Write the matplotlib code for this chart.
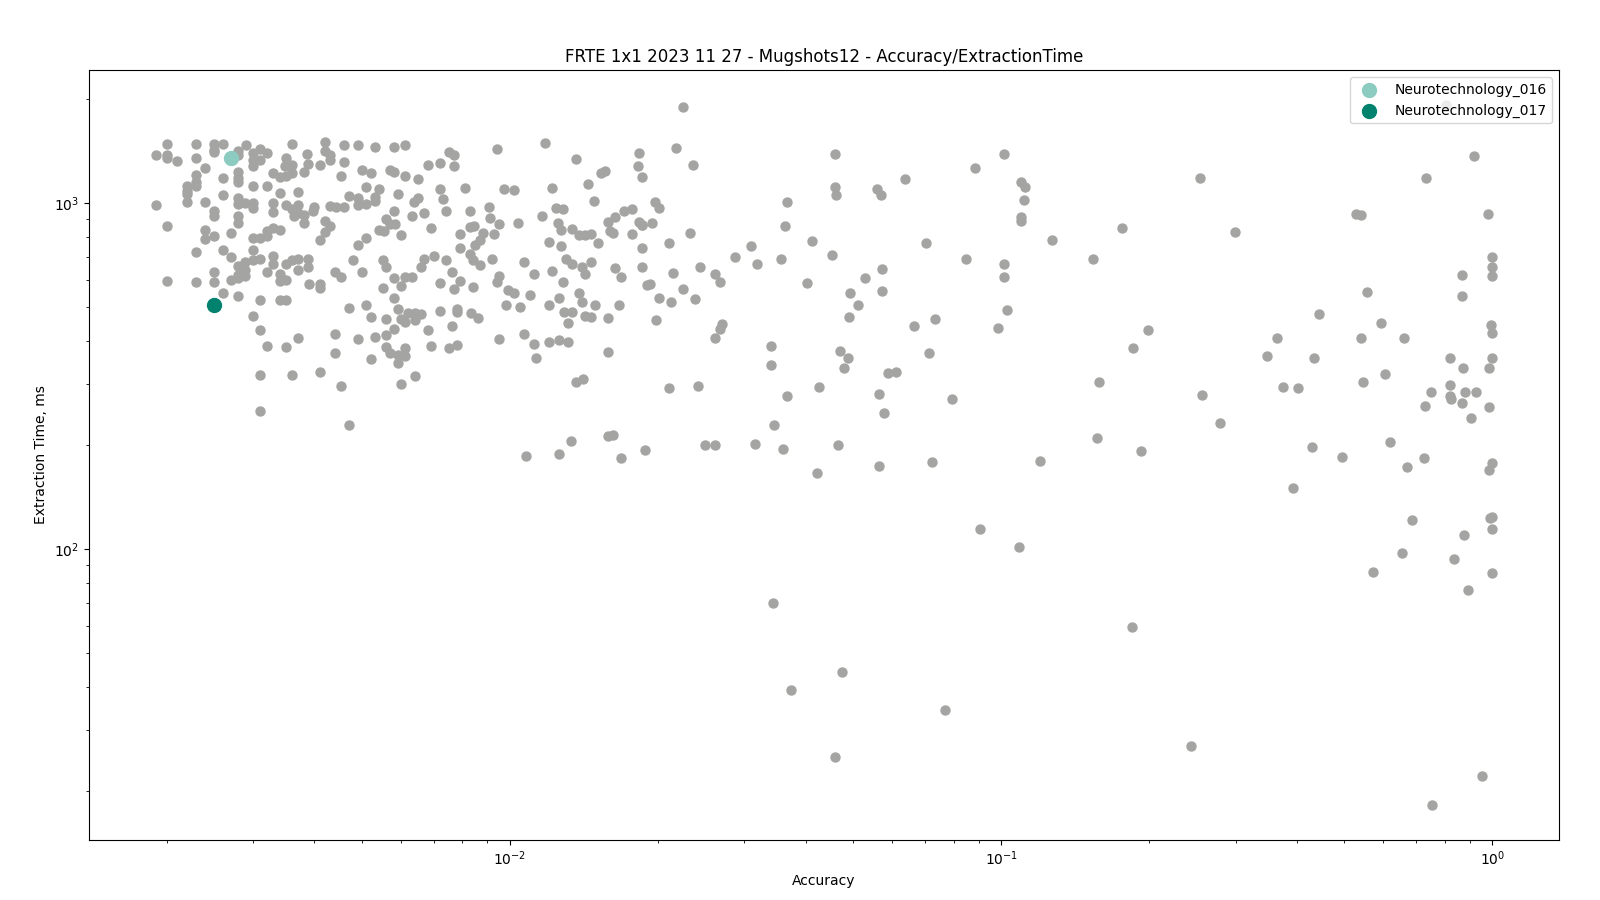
import matplotlib.pyplot as plt
import numpy as np

# (accuracy, extraction time in ms), grouped by area
cluster_far_left = [
    (0.00200, 1490), (0.00230, 1490), (0.00250, 1490), (0.00260, 1490), (0.00290, 1480),
    (0.00360, 1490), (0.00190, 1380), (0.00200, 1380), (0.00200, 1350), (0.00210, 1330),
    (0.00230, 1350), (0.00250, 1430), (0.00250, 1410), (0.00280, 1420), (0.00280, 1385),
    (0.00300, 1400), (0.00310, 1440), (0.00320, 1400), (0.00310, 1340), (0.00300, 1340),
    (0.00300, 1280), (0.00350, 1355), (0.00360, 1295), (0.00348, 1285), (0.00387, 1395),
    (0.00388, 1305), (0.00240, 1270), (0.00230, 1210), (0.00230, 1157), (0.00260, 1185),
    (0.00280, 1235), (0.00280, 1185), (0.00280, 1150), (0.00300, 1125), (0.00320, 1120),
    (0.00329, 1227), (0.00340, 1195), (0.00350, 1200), (0.00360, 1225), (0.00381, 1232),
    (0.00220, 1125), (0.00220, 1089), (0.00220, 1068), (0.00230, 1125), (0.00220, 1012),
    (0.00240, 1012), (0.00260, 1061), (0.00190, 991), (0.00280, 1040), (0.00280, 998),
    (0.00289, 1005), (0.00300, 1005), (0.00300, 972), (0.00340, 1075), (0.00371, 1082),
    (0.00329, 1005), (0.00329, 945), (0.00350, 991), (0.00360, 965), (0.00371, 991),
    (0.00371, 940), (0.00381, 928), (0.00364, 922), (0.00381, 877), (0.00250, 953),
    (0.00250, 920), (0.00280, 920), (0.00280, 880), (0.00200, 860), (0.00240, 836),
    (0.00240, 791), (0.00250, 807), (0.00270, 823), (0.00300, 796), (0.00310, 796),
    (0.00320, 807), (0.00320, 834), (0.00329, 851), (0.00340, 840), (0.00230, 725),
    (0.00260, 735), (0.00270, 701), (0.00300, 735), (0.00300, 688), (0.00310, 692),
    (0.00329, 706), (0.00329, 670), (0.00280, 661), (0.00289, 679), (0.00289, 643),
    (0.00280, 622), (0.00289, 618), (0.00320, 635), (0.00340, 627), (0.00350, 670),
    (0.00360, 688), (0.00371, 692), (0.00388, 692), (0.00388, 657), (0.00371, 643),
    (0.00250, 635), (0.00200, 598), (0.00230, 594), (0.00250, 594), (0.00270, 602),
    (0.00280, 610), (0.00340, 598), (0.00350, 602), (0.00260, 549), (0.00280, 538),
    (0.00310, 524), (0.00340, 524), (0.00350, 524), (0.00300, 474), (0.00310, 429),
    (0.00320, 386), (0.00350, 383), (0.00371, 407), (0.00310, 319), (0.00360, 318),
    (0.00310, 251),
]

cluster_left = [
    (0.00420, 1510), (0.00460, 1480), (0.00491, 1475), (0.00532, 1460), (0.00581, 1460),
    (0.00612, 1480), (0.00420, 1415), (0.00431, 1385), (0.00410, 1295), (0.00431, 1340),
    (0.00460, 1320), (0.00452, 1202), (0.00500, 1250), (0.00522, 1228), (0.00571, 1250),
    (0.00581, 1235), (0.00612, 1197), (0.00650, 1175), (0.00682, 1295), (0.00721, 1310),
    (0.00752, 1410), (0.00770, 1385), (0.00770, 1280), (0.00510, 1117), (0.00542, 1103),
    (0.00470, 1053), (0.00491, 1040), (0.00491, 992), (0.00510, 998), (0.00532, 1046),
    (0.00532, 1019), (0.00592, 1065), (0.00650, 1040), (0.00638, 1012), (0.00721, 1103),
    (0.00731, 1033), (0.00810, 1110), (0.00399, 979), (0.00397, 953), (0.00431, 985),
    (0.00443, 979), (0.00460, 979), (0.00581, 953), (0.00632, 920), (0.00670, 940),
    (0.00741, 953), (0.00830, 953), (0.00420, 891), (0.00431, 862), (0.00420, 828),
    (0.00410, 786), (0.00560, 903), (0.00571, 872), (0.00584, 872), (0.00542, 840),
    (0.00554, 834), (0.00600, 813), (0.00691, 851), (0.00510, 796), (0.00491, 760),
    (0.00792, 818), (0.00830, 856), (0.00845, 861), (0.00792, 745), (0.00830, 712),
    (0.00850, 760), (0.00840, 688), (0.00480, 686), (0.00552, 686), (0.00560, 657),
    (0.00670, 692), (0.00700, 706), (0.00659, 657), (0.00741, 686), (0.00762, 635),
    (0.00440, 635), (0.00452, 614), (0.00500, 635), (0.00581, 610), (0.00612, 614),
    (0.00632, 614), (0.00390, 585), (0.00410, 585), (0.00410, 570), (0.00552, 570),
    (0.00600, 578), (0.00721, 588), (0.00770, 566), (0.00792, 597), (0.00840, 575),
    (0.00581, 531), (0.00470, 499), (0.00510, 507), (0.00522, 470), (0.00560, 464),
    (0.00592, 496), (0.00620, 483), (0.00641, 483), (0.00659, 480), (0.00600, 464),
    (0.00612, 455), (0.00641, 461), (0.00721, 490), (0.00781, 496), (0.00781, 486),
    (0.00835, 483), (0.00762, 441), (0.00682, 430), (0.00581, 433), (0.00440, 418),
    (0.00491, 405), (0.00532, 412), (0.00560, 415), (0.00560, 383), (0.00571, 368),
    (0.00592, 365), (0.00612, 381), (0.00612, 361), (0.00592, 345), (0.00691, 386),
    (0.00752, 381), (0.00781, 389), (0.00440, 370), (0.00522, 355), (0.00410, 325),
    (0.00452, 297), (0.00600, 301), (0.00641, 316), (0.00470, 229),
]

cluster_mid = [
    (0.00941, 1440), (0.0118, 1495), (0.0136, 1348), (0.0153, 1225), (0.0156, 1240),
    (0.00973, 1103), (0.0102, 1095), (0.0122, 1110), (0.0144, 1138), (0.0148, 1018),
    (0.00905, 978), (0.00912, 910), (0.00950, 873), (0.0104, 879), (0.0116, 921),
    (0.0124, 972), (0.0128, 965), (0.0125, 879), (0.0127, 839), (0.0134, 845),
    (0.0138, 812), (0.0142, 812), (0.0146, 818), (0.0151, 770), (0.0158, 886),
    (0.0160, 834), (0.0162, 823), (0.0164, 915), (0.0171, 952), (0.0177, 965),
    (0.0177, 818), (0.0183, 886), (0.0186, 869), (0.00880, 823), (0.00870, 783),
    (0.00930, 818), (0.0120, 775), (0.0127, 754), (0.00870, 665), (0.00920, 692),
    (0.0107, 679), (0.0112, 627), (0.0122, 639), (0.0130, 692), (0.0134, 670),
    (0.0140, 657), (0.0142, 623), (0.0146, 679), (0.0164, 652), (0.0168, 614),
    (0.00950, 618), (0.00942, 594), (0.0128, 594), (0.00990, 560), (0.0102, 549),
    (0.0110, 545), (0.0138, 552), (0.0126, 531), (0.0140, 517), (0.0149, 510),
    (0.0167, 507), (0.00983, 507), (0.0105, 503), (0.0120, 507), (0.0129, 486),
    (0.0134, 486), (0.0142, 473), (0.0146, 470), (0.0158, 467), (0.0131, 452),
    (0.00860, 467), (0.00950, 404), (0.0107, 420), (0.0112, 392), (0.0120, 397),
    (0.0126, 403), (0.0131, 397), (0.0113, 358), (0.0158, 371), (0.0136, 305),
    (0.0141, 310), (0.0133, 205), (0.0158, 213), (0.0162, 214), (0.0108, 186),
    (0.0126, 188), (0.0168, 183), (0.0188, 194),
]

cluster_mid_right = [
    (0.0225, 1902), (0.0218, 1450), (0.0236, 1290), (0.0183, 1400), (0.0182, 1285),
    (0.0186, 1195), (0.0197, 1012), (0.0201, 972), (0.0186, 869), (0.0195, 879),
    (0.0233, 823), (0.0211, 770), (0.0186, 745), (0.0366, 1012), (0.0363, 862),
    (0.0310, 754), (0.0287, 698), (0.0318, 666), (0.0356, 692), (0.0186, 657),
    (0.0215, 631), (0.0244, 657), (0.0262, 623), (0.0268, 594), (0.0190, 582),
    (0.0193, 586), (0.0225, 566), (0.0201, 534), (0.0213, 520), (0.0238, 530),
    (0.0198, 460), (0.0270, 449), (0.0268, 432), (0.0262, 409), (0.0340, 386),
    (0.0340, 340), (0.0211, 292), (0.0242, 296), (0.0366, 278), (0.0345, 229),
    (0.0250, 200), (0.0262, 200), (0.0316, 202), (0.0360, 195),
]

cluster_right = [
    (0.0459, 1395), (0.1013, 1395), (0.0885, 1268), (0.0637, 1178), (0.0459, 1113),
    (0.0461, 1060), (0.0559, 1103), (0.0569, 1060), (0.1096, 1157), (0.1118, 1118),
    (0.1113, 1025), (0.1096, 915), (0.1096, 889), (0.1759, 851), (0.1269, 786),
    (0.0412, 781), (0.0703, 770), (0.0452, 711), (0.0848, 689), (0.1013, 666),
    (0.1013, 614), (0.1538, 689), (0.0572, 645), (0.0528, 610), (0.0402, 589),
    (0.0492, 552), (0.0572, 559), (0.0511, 509), (0.0490, 468), (0.1027, 493),
    (0.0733, 462), (0.0665, 441), (0.0985, 435), (0.1990, 429), (0.1855, 381),
    (0.0470, 374), (0.0488, 356), (0.0479, 335), (0.0714, 368), (0.0589, 324),
    (0.0611, 326), (0.1581, 305), (0.0426, 294), (0.0564, 281), (0.0577, 248),
    (0.0794, 272), (0.1567, 210), (0.1927, 192), (0.0466, 200), (0.0422, 166),
    (0.0564, 174), (0.0723, 179), (0.1200, 180),
]

cluster_far_right = [
    (0.254, 1187), (0.732, 1187), (0.917, 1374), (0.528, 933), (0.541, 927),
    (0.979, 933), (0.299, 828), (1.0, 698), (1.0, 656), (1.0, 618),
    (0.867, 622), (0.867, 541), (0.555, 556), (0.444, 480), (0.593, 452),
    (0.993, 446), (1.0, 423), (0.364, 409), (0.540, 409), (0.661, 409),
    (0.348, 363), (0.433, 356), (0.820, 358), (0.871, 335), (0.984, 335),
    (1.0, 358), (0.604, 322), (0.545, 305), (0.375, 295), (0.402, 293),
    (0.256, 280), (0.820, 299), (0.750, 284), (0.820, 278), (0.823, 272),
    (0.879, 284), (0.926, 284), (0.867, 264), (0.729, 260), (0.984, 257),
    (0.904, 240), (0.279, 232), (0.429, 197), (0.494, 185), (0.618, 204),
    (0.670, 173), (0.725, 184), (1.0, 177), (0.984, 169), (0.393, 150),
    (0.803, 1925),
]

low_outliers = [
    (1.0, 124), (0.99, 123), (1.0, 114), (1.0, 85), (0.875, 110),
    (0.834, 93.4), (0.892, 76), (0.685, 121), (0.656, 97.4), (0.571, 86),
    (0.953, 22.1), (0.754, 18.2), (0.243, 27), (0.1848, 59.3), (0.1088, 101.4),
    (0.0907, 114.6), (0.0770, 34.3), (0.0475, 44), (0.0460, 25), (0.0374, 39),
    (0.0343, 70),
]

highlight_names = ['Neurotechnology_016', 'Neurotechnology_017']
highlight_acc = [0.00270, 0.00250]
highlight_time = [1350, 510]
highlight_colors = ['#8ccbc0', '#00826f']

groups = [cluster_far_left, cluster_left, cluster_mid, cluster_mid_right,
          cluster_right, cluster_far_right, low_outliers]
others = np.array([p for g in groups for p in g])

fig, ax = plt.subplots(figsize=(16, 9), dpi=100)
fig.subplots_adjust(left=0.0555, right=0.9745, top=0.922, bottom=0.067)

ax.scatter(others[:, 0], others[:, 1], s=42, color='#a4a5a3', zorder=2)
for name, a, t, c in zip(highlight_names, highlight_acc, highlight_time,
                         highlight_colors):
    ax.scatter([a], [t], s=100, color=c, label=name, zorder=3)

ax.set_xscale('log')
ax.set_yscale('log')
ax.set_xlabel('Accuracy')
ax.set_ylabel('Extraction Time, ms')
ax.set_title('FRTE 1x1 2023 11 27 - Mugshots12 - Accuracy/ExtractionTime')
ax.legend(loc='upper right')

plt.savefig('out.png')
